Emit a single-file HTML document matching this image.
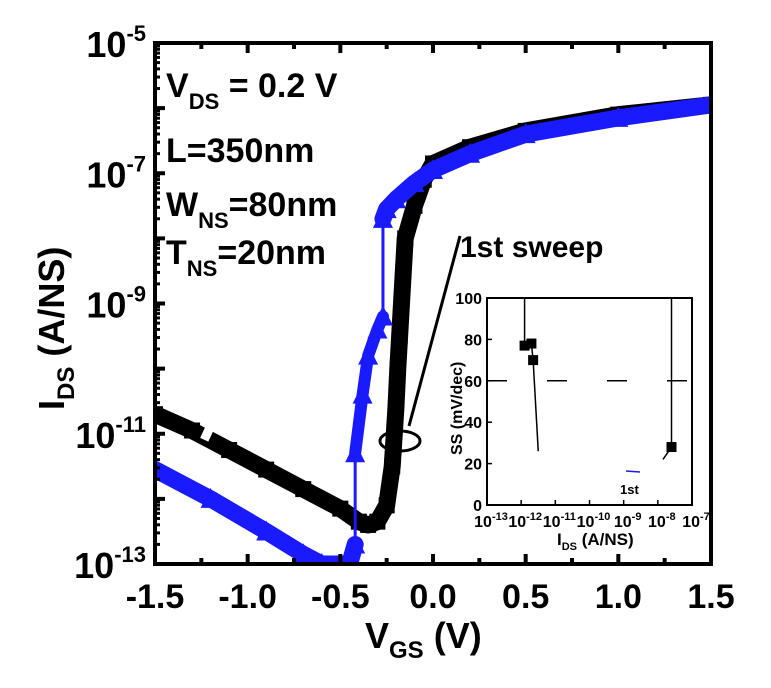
<!DOCTYPE html>
<html><head><meta charset="utf-8"><style>
body{margin:0;background:#fff;}
svg text{font-family:"Liberation Sans",Arial,sans-serif;font-weight:bold;}
</style></head><body>
<svg id="chart" width="771" height="683" viewBox="0 0 771 683" xmlns="http://www.w3.org/2000/svg"></svg>
<script>
const blackV=[-1.5,-1.3,-1.1,-0.9,-0.7,-0.5,-0.4,-0.35,-0.3,-0.25,-0.22,-0.2,-0.19,-0.18,-0.17,-0.16,-0.15,-0.1,-0.05,0,0.2,0.5,1.0,1.5];
const blackLogI=[-10.7,-10.95,-11.25,-11.55,-11.85,-12.15,-12.35,-12.4,-12.35,-12.1,-11.5,-10.6,-10.0,-9.5,-9.0,-8.5,-8.0,-7.5,-7.1,-6.85,-6.6,-6.35,-6.1,-5.95];
const blueV=[-1.5,-1.2,-0.9,-0.7,-0.6,-0.45,-0.42,-0.42,-0.38,-0.35,-0.3,-0.27,-0.27,-0.25,-0.2,-0.1,0,0.2,0.5,1.0,1.5];
const blueLogI=[-11.55,-12.0,-12.5,-12.85,-13,-13,-12.7,-11.3,-10.4,-9.8,-9.4,-9.2,-7.7,-7.55,-7.4,-7.15,-6.95,-6.7,-6.4,-6.15,-5.95];
const xTicks=[-1.5,-1.0,-0.5,0.0,0.5,1.0,1.5];
const yTickExp=[-5,-7,-9,-11,-13];
const insetLogI=[-11.9,-11.7,-11.65,-7.6];
const insetSS=[77,78,70,28];
const insetXTickExp=[-13,-12,-11,-10,-9,-8,-7];
const insetYTicks=[0,20,40,60,80,100];

const NS="http://www.w3.org/2000/svg";
const svg=document.getElementById('chart');
function mk(t,a,p){const e=document.createElementNS(NS,t);for(const k in a)e.setAttribute(k,a[k]);(p||svg).appendChild(e);return e;}
const X0=155,X1=711,Y0=43,Y1=564;
const sx=v=>X0+(v+1.5)/3*(X1-X0);
const sy=l=>Y0+(-5-l)/8*(Y1-Y0);
const ix=l=>487+(l+13)/6*(692-487);
const iy=s=>505-s/100*(505-298);

const clip=mk('clipPath',{id:'pc'});mk('rect',{x:X0,y:Y0,width:X1-X0,height:Y1-Y0},clip);
const plot=mk('g',{'clip-path':'url(#pc)'});
function curve(V,L,color,w,name){
  const pts=V.map((v,i)=>sx(v)+','+sy(L[i])).join(' ');
  const e=mk('polyline',{points:pts,fill:'none',stroke:color,'stroke-width':w,'stroke-linejoin':'round','stroke-linecap':'round'},plot);
  
  
}
curve(blackV,blackLogI,'#000',17,'black-sweep-band');
blackV.forEach((v,i)=>{const r=mk('rect',{x:sx(v)-8,y:sy(blackLogI[i])-8,width:16,height:16,fill:'#000'},plot);

});
curve(blueV,blueLogI,'#1a1aff',3,'blue-sweep-line');
curve(blueV.slice(0,7),blueLogI.slice(0,7),'#1a1aff',17,'blue-sweep-band');
curve(blueV.slice(7,12),blueLogI.slice(7,12),'#1a1aff',12,'blue-sweep-band-mid');
curve(blueV.slice(12),blueLogI.slice(12),'#1a1aff',17,'blue-sweep-band-upper');
blueV.forEach((v,i)=>{const x=sx(v),y=sy(blueLogI[i]);
const t=mk('polygon',{points:`${x-10},${y+9} ${x+10},${y+9} ${x},${y-11}`,fill:'#1a1aff'},plot);

});
mk('rect',{x:sx(-1.2)-5,y:sy(-10.9)-14,width:9,height:28,fill:'#fff',transform:`rotate(25 ${sx(-1.2)} ${sy(-10.9)})`},plot);

const fr=mk('rect',{x:X0,y:Y0,width:X1-X0,height:Y1-Y0,fill:'none',stroke:'#000','stroke-width':4});


xTicks.forEach(v=>{const x=sx(v);
mk('line',{x1:x,y1:Y1,x2:x,y2:Y1-10,stroke:'#000','stroke-width':4});
mk('line',{x1:x,y1:Y0,x2:x,y2:Y0+10,stroke:'#000','stroke-width':4});
if(v<1.5){const m=sx(v+0.25);mk('line',{x1:m,y1:Y1,x2:m,y2:Y1-6,stroke:'#000','stroke-width':4});mk('line',{x1:m,y1:Y0,x2:m,y2:Y0+6,stroke:'#000','stroke-width':4});}
const t=mk('text',{x:x,y:608,'font-size':34,'text-anchor':'middle'});t.textContent=v.toFixed(1);

});
for(let d=-13;d<=-5;d++){const y=sy(d);
mk('line',{x1:X0,y1:y,x2:X0+10,y2:y,stroke:'#000','stroke-width':4});
if(d<-5)for(let k=2;k<10;k++){const yy=sy(d+Math.log10(k));mk('line',{x1:X0,y1:yy,x2:X0+5,y2:yy,stroke:'#000','stroke-width':3});}}
yTickExp.forEach(e=>{const t=mk('text',{x:146,y:sy(e)+14,'font-size':36,'text-anchor':'end'});
t.innerHTML=`10<tspan dy="-16" font-size="22">${e}</tspan>`;

});

let t=mk('text',{x:365,y:648,'font-size':36});t.innerHTML='V<tspan dy="10" font-size="24">GS</tspan><tspan dy="-10"> (V)</tspan>';

t=mk('text',{x:0,y:0,'font-size':36,transform:'translate(64,410) rotate(-90)'});t.innerHTML='I<tspan dy="10" font-size="24">DS</tspan><tspan dy="-10"> (A/NS)</tspan>';


const ann=[['V','DS',' = 0.2 V',97],['L','','=350nm',162],['W','NS','=80nm',216],['T','NS','=20nm',264]];
ann.forEach(a=>{const e=mk('text',{x:166,y:a[3],'font-size':34});
e.innerHTML=a[0]+(a[1]?`<tspan dy="12" font-size="22">${a[1]}</tspan><tspan dy="-12">${a[2]}</tspan>`:a[2]);
});
t=mk('text',{x:460,y:257,'font-size':30});t.textContent='1st sweep';

mk('ellipse',{cx:400,cy:441,rx:20,ry:10,fill:'none',stroke:'#000','stroke-width':3});
mk('line',{x1:409,y1:426,x2:460,y2:236,stroke:'#000','stroke-width':3});

const ins=mk('g',{});
mk('rect',{x:487,y:298,width:205,height:207,fill:'#fff',stroke:'none'},ins);
mk('line',{x1:487,y1:iy(100),x2:692,y2:iy(100),stroke:'#000','stroke-width':2,'stroke-dasharray':'28,10'},ins);
mk('line',{x1:487,y1:iy(60),x2:692,y2:iy(60),stroke:'#000','stroke-width':1.5,'stroke-dasharray':'20,40'},ins);
mk('line',{x1:ix(insetLogI[0]),y1:iy(100),x2:ix(insetLogI[0]),y2:iy(insetSS[0]),stroke:'#000','stroke-width':1.5},ins);
mk('polyline',{points:`${ix(insetLogI[1])},${iy(insetSS[1])} ${ix(insetLogI[2])},${iy(insetSS[2])} ${ix(-11.5)},${iy(26)}`,fill:'none',stroke:'#000','stroke-width':1.5},ins);
mk('line',{x1:ix(insetLogI[3]),y1:iy(100),x2:ix(insetLogI[3]),y2:iy(insetSS[3]),stroke:'#000','stroke-width':1.5},ins);
mk('line',{x1:ix(insetLogI[3]),y1:iy(insetSS[3]),x2:ix(-7.85),y2:iy(22),stroke:'#000','stroke-width':1.5},ins);
mk('line',{x1:626,y1:471,x2:640,y2:472,stroke:'#1a1aff','stroke-width':1.5},ins);
insetLogI.forEach((l,i)=>{const r=mk('rect',{x:ix(l)-5,y:iy(insetSS[i])-5,width:10,height:10,fill:'#000'},ins);
});
t=mk('text',{x:620,y:494,'font-size':13},ins);t.textContent='1st';
mk('rect',{x:487,y:298,width:205,height:207,fill:'none',stroke:'#000','stroke-width':2},ins);
insetYTicks.forEach(s=>{mk('line',{x1:487,y1:iy(s),x2:492,y2:iy(s),stroke:'#000','stroke-width':1.5},ins);
const e=mk('text',{x:482,y:iy(s)+6,'font-size':16,'text-anchor':'end'},ins);e.textContent=s;
});
insetXTickExp.forEach(d=>{const x=ix(d);mk('line',{x1:x,y1:505,x2:x,y2:500,stroke:'#000','stroke-width':1.5},ins);
const e=mk('text',{x:x+4,y:527,'font-size':16,'text-anchor':'middle'},ins);e.innerHTML=`10<tspan dy="-7" font-size="11">${d}</tspan>`;
});
t=mk('text',{x:557,y:545,'font-size':17},ins);t.innerHTML='I<tspan dy="5" font-size="11">DS</tspan><tspan dy="-5"> (A/NS)</tspan>';

t=mk('text',{x:0,y:0,'font-size':16,transform:'translate(462,455) rotate(-90)'},ins);t.textContent='SS (mV/dec)';

</script>
</body></html>
